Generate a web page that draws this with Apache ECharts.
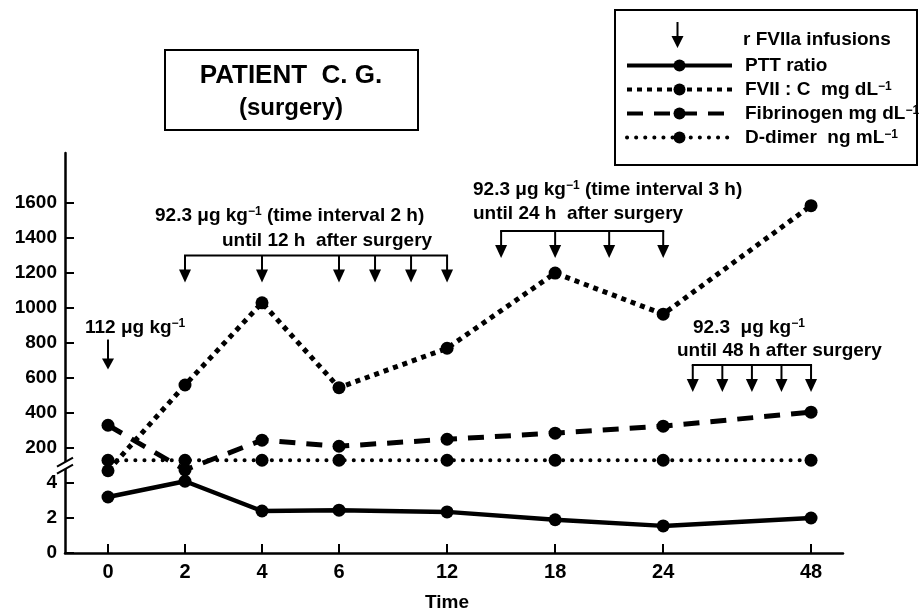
<!DOCTYPE html>
<html><head><meta charset="utf-8">
<script src="https://cdn.jsdelivr.net/npm/echarts@6/dist/echarts.min.js"></script>
<style>html,body{margin:0;padding:0;background:#fff}#c{width:920px;height:612px}</style>
</head><body><div id="c"></div>
<script>
// ---- data ----
const times = [0, 2, 4, 6, 12, 18, 24, 48];
const pttRatio = [3.2, 4.1, 2.4, 2.45, 2.35, 1.9, 1.55, 2.0];
const fviiC = [70, 560, 1030, 545, 770, 1200, 965, 1585];
const fibrinogen = [330, 75, 245, 210, 250, 285, 325, 405];
const dDimer = [130, 130, 130, 130, 130, 130, 130, 130];
const lowerTicks = [0, 2, 4];
const upperTicks = [200, 400, 600, 800, 1000, 1200, 1400, 1600];
const infusionGroups = [[0], [2, 4, 6, 8, 10, 12], [15, 18, 21, 24], [28.8, 33.6, 38.4, 43.2, 48]];
const infusionLevels = [820, 1300, 1440, 675];   // upper-scale value of each bracket top
const seriesNames = ['PTT ratio', 'FVII : C  mg dL', 'Fibrinogen mg dL', 'D-dimer  ng mL'];
const seriesSup = ['', '−1', '−1', '−1'];

// ---- axis scales (broken / piecewise) ----
const timeKnots = [[0, 0], [6, 6], [24, 14.42], [48, 18.26]];
function tx(t) {
  for (let i = 1; i < timeKnots.length; i++) {
    const [t0, u0] = timeKnots[i - 1], [t1, u1] = timeKnots[i];
    if (t <= t1 || i === timeKnots.length - 1) return u0 + (t - t0) * (u1 - u0) / (t1 - t0);
  }
}
const yLow = v => v / 2;          // lower segment 0..4
const yUp = v => 2 + v / 200;     // upper segment 200..1600
const yLabel = v => v <= 2.001 ? String(Math.round(v * 2)) : String(Math.round((v - 2) * 200));

const FONT = 'Liberation Sans, Arial, sans-serif';
const xMin = -1.117, xMax = 19.09;

const chart = echarts.init(document.getElementById('c'), null, {renderer: 'canvas'});

function pts(arr, f) { return times.map((t, i) => [tx(t), f(arr[i])]); }

const arrowPath = 'path://M0,0L0,0Z M105,36L105,36Z M51.5,0 L53.5,0 L53.5,14 L58.5,14 L52.5,26 L46.5,14 L51.5,14 Z';

const option = {
  animation: false,
  backgroundColor: '#fff',
  textStyle: {fontFamily: FONT},
  grid: {left: 65, right: 77, top: 153, bottom: 59, containLabel: false, outerBoundsMode: 'none'},
  xAxis: {
    type: 'value', min: xMin, max: xMax,
    name: 'Time', nameLocation: 'middle', nameGap: 40,
    nameTextStyle: {fontSize: 19, fontWeight: 'bold', color: '#000', fontFamily: FONT, padding: [0, 14, 0, 0]},
    axisLine: {onZero: false, lineStyle: {color: '#000', width: 2.5}},
    axisTick: {inside: true, length: 9, lineStyle: {color: '#000', width: 2}, customValues: times.map(tx)},
    axisLabel: {
      customValues: times.map(tx), margin: 9, fontSize: 20, fontWeight: 'bold', color: '#000', fontFamily: FONT,
      formatter: v => { let b = 0; times.forEach((t, i) => { if (Math.abs(tx(t) - v) < Math.abs(tx(times[b]) - v)) b = i; }); return String(times[b]); }
    },
    splitLine: {show: false}
  },
  yAxis: {
    type: 'value', min: 0, max: 11.43,
    axisLine: {show: true, onZero: false, lineStyle: {color: '#000', width: 2.5}},
    axisTick: {show: true, inside: true, length: 9, lineStyle: {color: '#000', width: 2},
      customValues: lowerTicks.map(yLow).concat(upperTicks.map(yUp))},
    axisLabel: {customValues: lowerTicks.map(yLow).concat(upperTicks.map(yUp)), margin: 8,
      fontSize: 19, fontWeight: 'bold', color: '#000', fontFamily: FONT, formatter: yLabel},
    splitLine: {show: false}
  },
  legend: [
    {
      data: [{name: 'r FVIIa infusions', icon: arrowPath}],
      left: 625, top: 22, padding: 0, itemWidth: 105, itemHeight: 36, selectedMode: false,
      textStyle: {fontSize: 19, fontWeight: 'bold', color: '#000', fontFamily: FONT, padding: [0, 0, 0, 8]}
    },
    {
      data: seriesNames, orient: 'vertical', left: 625, top: 56, padding: 0,
      itemWidth: 105, itemHeight: 15, itemGap: 5, selectedMode: false,
      lineStyle: {width: 4},
      formatter: name => { const i = seriesNames.indexOf(name); return seriesSup[i] ? name + '{sup|' + seriesSup[i] + '}' : name; },
      textStyle: {fontSize: 19, fontWeight: 'bold', color: '#000', fontFamily: FONT, lineHeight: 18, padding: [0, 0, 0, 8],
        rich: {sup: {fontSize: 12, fontWeight: 'bold', color: '#000', fontFamily: FONT, verticalAlign: 'top', lineHeight: 18}}}
    }
  ],
  series: [
    {name: seriesNames[0], type: 'line', data: pts(pttRatio, yLow), symbol: 'circle', symbolSize: 13,
      itemStyle: {color: '#000'}, lineStyle: {color: '#000', width: 4.5, type: 'solid'}, z: 5},
    {name: seriesNames[1], type: 'line', data: pts(fviiC, yUp), symbol: 'circle', symbolSize: 13,
      itemStyle: {color: '#000'}, lineStyle: {color: '#000', width: 5, type: [5, 5]}, z: 5},
    {name: seriesNames[2], type: 'line', data: pts(fibrinogen, yUp), symbol: 'circle', symbolSize: 13,
      itemStyle: {color: '#000'}, lineStyle: {color: '#000', width: 5, type: [16, 11]}, z: 5},
    {name: seriesNames[3], type: 'line', data: pts(dDimer, yUp), symbol: 'circle', symbolSize: 13,
      itemStyle: {color: '#000'}, lineStyle: {color: '#000', width: 4, type: [0.1, 9], cap: 'round'}, z: 5},
    {
      name: 'r FVIIa infusions', type: 'custom', itemStyle: {color: '#000'}, z: 6,
      data: infusionGroups.map((g, i) => [tx(g[0]), yUp(infusionLevels[i])]),
      renderItem: (params, api) => {
        const i = params.dataIndex, g = infusionGroups[i];
        const top = api.coord([tx(g[0]), yUp(infusionLevels[i])])[1];
        const xs = g.map(t => api.coord([tx(t), yUp(infusionLevels[i])])[0]);
        const single = g.length === 1;
        const shaft = single ? 19 : 14, head = single ? 11 : 13;
        const ch = [];
        if (!single) ch.push({type: 'line', shape: {x1: xs[0] - 1, y1: top, x2: xs[xs.length - 1] + 1, y2: top}, style: {stroke: '#000', lineWidth: 2}});
        xs.forEach(x => {
          ch.push({type: 'line', shape: {x1: x, y1: top, x2: x, y2: top + shaft + 1}, style: {stroke: '#000', lineWidth: 2}});
          ch.push({type: 'polygon', shape: {points: [[x - 6, top + shaft], [x + 6, top + shaft], [x, top + shaft + head]]}, style: {fill: '#000'}});
        });
        return {type: 'group', children: ch};
      }
    },
    {
      name: 'axis break', type: 'custom', z: 7, silent: true,
      data: [[xMin, 2.5]],
      renderItem: (params, api) => {
        const p = api.coord([xMin, 2.5]);
        const x = p[0], y = p[1];
        return {type: 'group', children: [
          {type: 'polygon', shape: {points: [[x - 8, y + 1], [x + 8, y - 8], [x + 8, y - 1], [x - 8, y + 8]]}, style: {fill: '#fff'}},
          {type: 'line', shape: {x1: x - 8, y1: y + 1, x2: x + 8, y2: y - 8}, style: {stroke: '#000', lineWidth: 2}},
          {type: 'line', shape: {x1: x - 8, y1: y + 8, x2: x + 8, y2: y - 1}, style: {stroke: '#000', lineWidth: 2}}
        ]};
      }
    }
  ],
  graphic: [
    {type: 'rect', shape: {x: 165, y: 50, width: 253, height: 80}, style: {fill: 'none', stroke: '#000', lineWidth: 2}},
    {type: 'text', x: 291, y: 76, style: {text: 'PATIENT  C. G.', font: 'bold 26px ' + FONT, fill: '#000', align: 'center', verticalAlign: 'middle'}},
    {type: 'text', x: 291, y: 108, style: {text: '(surgery)', font: 'bold 24px ' + FONT, fill: '#000', align: 'center', verticalAlign: 'middle'}},
    {type: 'rect', shape: {x: 615, y: 10, width: 302, height: 155}, style: {fill: 'none', stroke: '#000', lineWidth: 2}},
    ...[
      ['112 μg kg{sup|−1}', 85, 328],
      ['92.3 μg kg{sup|−1} (time interval 2 h)', 155, 216],
      ['until 12 h  after surgery', 222, 241],
      ['92.3 μg kg{sup|−1} (time interval 3 h)', 473, 190],
      ['until 24 h  after surgery', 473, 214],
      ['92.3  μg kg{sup|−1}', 693, 328],
      ['until 48 h after surgery', 677, 351]
    ].map(([t, x, y]) => ({
      type: 'text', x: x, y: y, z: 10,
      style: {text: t, fontSize: 19, fontWeight: 'bold', fontFamily: FONT, fill: '#000', align: 'left', verticalAlign: 'middle', lineHeight: 20,
        rich: {sup: {fontSize: 12, fontWeight: 'bold', fontFamily: FONT, fill: '#000', verticalAlign: 'top', lineHeight: 20}}}
    }))
  ]
};
chart.setOption(option);
</script></body></html>
